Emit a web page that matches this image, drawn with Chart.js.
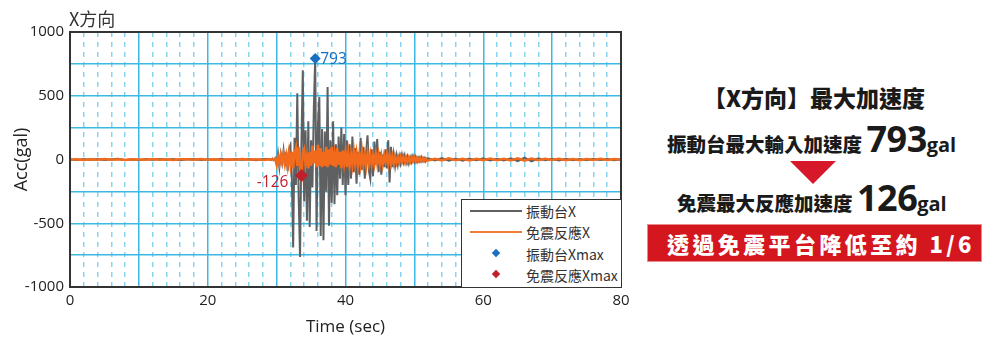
<!DOCTYPE html>
<html>
<head>
<meta charset="utf-8">
<script src="https://cdn.jsdelivr.net/npm/chart.js@4.4.1/dist/chart.umd.min.js"></script>
<style>
  body { margin: 0; background: #fff; width: 1000px; height: 343px; position: relative; overflow: hidden;
         font-family: "Noto Sans CJK TC", "Noto Sans", sans-serif; }
  #chartBox { position: absolute; left: 0; top: 0; width: 640px; height: 343px; }
  .dirLabel { position: absolute; left: 69px; top: 5px; font-size: 18px; line-height: 26px; color: #333; }

  /* legend box inside the plot */
  .legend { position: absolute; left: 461px; top: 199px; width: 161px; height: 89px; box-sizing: border-box;
            border: 1.5px solid #333; background: #fff; }
  .legend .row { position: absolute; left: 0; width: 100%; height: 20px; }
  .legend .line { position: absolute; left: 8px; top: 9px; width: 52px; height: 2px; }
  .legend .dia { position: absolute; left: 31px; top: 6px; width: 6px; height: 6px; transform: rotate(45deg); }
  .legend .txt { position: absolute; left: 64px; top: 0; font-size: 14px; line-height: 20px; color: #333; white-space: nowrap; }

  /* summary panel */
  .panel div { position: absolute; white-space: nowrap; color: #1a1a1a; font-weight: 900; }
  .head { left: 703px; top: 81px; font-size: 23px; line-height: 32px; }
  .big { font-family: "Open Sans", "Noto Sans", sans-serif; font-weight: 700; font-size: 36px; letter-spacing: -0.5px; }
  .unit { font-family: "Open Sans", "Noto Sans", sans-serif; font-weight: 700; font-size: 20px; }
  .line2 { left: 667px; top: 122px; font-size: 19.5px; line-height: 34px; }
  .line3 { left: 677px; top: 181px; font-size: 19.5px; line-height: 34px; }
  .arrow { left: 790px; top: 161px; width: 0; height: 0; border-left: 23.5px solid transparent;
           border-right: 23.5px solid transparent; border-top: 23px solid #d7182a; }
  .bar { left: 647px; top: 224px; width: 335px; height: 38px; box-sizing: border-box; background: #d4161f;
         border: 1px solid #ea8a8a; }
  .bar span { position: absolute; left: 19px; top: 0; font-size: 22px; line-height: 36px; color: #fff;
              letter-spacing: 3.4px; font-weight: 900; }
</style>
</head>
<body>
<div id="chartBox"><canvas id="accChart" width="640" height="343"></canvas></div>
<div class="dirLabel">X方向</div>

<div class="legend">
  <div class="row" style="top:1px"><div class="line" style="background:#5e6062"></div><div class="txt">振動台X</div></div>
  <div class="row" style="top:22px"><div class="line" style="background:#f07c3a"></div><div class="txt">免震反應X</div></div>
  <div class="row" style="top:44px"><div class="dia" style="background:#1a6fc0"></div><div class="txt">振動台Xmax</div></div>
  <div class="row" style="top:65px"><div class="dia" style="background:#c21f2c"></div><div class="txt">免震反應Xmax</div></div>
</div>

<div class="panel">
  <div class="head">【X方向】最大加速度</div>
  <div class="line2">振動台最大輸入加速度 <span class="big" id="inMax"></span><span class="unit">gal</span></div>
  <div class="arrow"></div>
  <div class="line3">免震最大反應加速度 <span class="big" id="outMax"></span><span class="unit">gal</span></div>
  <div class="bar"><span>透過免震平台降低至約 1/6</span></div>
</div>

<script>
// shaking table input (gray) and isolated response (orange), gal
// 0..28 s every 1 s, 29..51.8 s every 0.2 s, 52..80 s every 1 s
const tableAccX = [
  // 0 - 28 s
  2, -3, 4, -2, 3, -4, 2, 5, -3, 1, -4, 3, -2, 4, -1, 3, -5, 2, 4, -3, 2, -2, 5, -4, 3, -2, 4, -6, 3,
  // 29.0 - 30.8
  3, -4, 6, -5, 10, -30, 45, -60, 40, -25,
  // 31.0 - 32.8
  70, -50, 60, -90, 80, 110, -120, -690, 170, -200,
  // 33.0 - 34.8
  520, -300, -765, 120, 700, -330, 230, -480, 300, -530,
  // 35.0 - 36.8
  150, -220, 400, 793, -560, 280, 490, -600, 240, -634,
  // 37.0 - 38.8
  220, -250, 569, -520, 150, -340, 300, -350, 120, -280,
  // 39.0 - 40.8
  180, -150, 250, -200, 200, -280, 150, -200, 120, -150,
  // 41.0 - 42.8
  180, -100, 90, -190, 60, -120, 170, -80, 100, -150,
  // 43.0 - 44.8
  60, 190, -90, -150, 80, -130, 140, -40, 160, -100,
  // 45.0 - 46.8
  60, -120, 40, -60, 80, -70, 150, -180, 100, -60,
  // 47.0 - 48.8
  40, -50, 30, -40, 25, -30, 35, -20, 30, -25,
  // 49.0 - 50.8
  20, -30, 15, -20, 25, -15, 20, -18, 12, -15,
  // 51.0 - 51.8
  18, -10, 12, -14, 8,
  // 52 - 80 s
  10, -8, 12, -9, 7, -10, 8, -6, 9, -7, 6, -8, 10, -12, 15, -14, 9, -6, 5, -7, 6, -5, 4, -6, 5, -4, 6, -5, 3
];

const isolatedAccX = [
  // 0 - 28 s
  -2, 1, -3, 2, -1, 3, -2, 1, -3, 2, 0, -2, 3, -1, 2, -3, 1, 2, -2, 3, -1, 2, -3, 1, -2, 3, -1, 2, -3,
  // 29.0 - 30.8
  2, -3, 4, -2, 5, -40, 20, -30, 35, -20,
  // 31.0 - 32.8
  40, -35, 30, -50, 50, -40, 60, -70, 40, 90,
  // 33.0 - 34.8
  -50, 100, -70, -126, 50, 80, -40, 30, -70, 60,
  // 35.0 - 36.8
  -50, 110, -30, 70, -60, 115, -50, 90, -60, 60,
  // 37.0 - 38.8
  -50, 100, -60, 80, -40, 100, -50, 40, -60, 90,
  // 39.0 - 40.8
  -40, 60, -70, 70, -30, 60, -60, 50, -50, 40,
  // 41.0 - 42.8
  -40, 70, -30, 50, -50, 40, -40, 60, -40, 30,
  // 43.0 - 44.8
  -50, 50, -30, 40, -40, 30, -35, 45, -30, 40,
  // 45.0 - 46.8
  -35, 30, -40, 30, -20, 40, -30, 35, -35, 25,
  // 47.0 - 48.8
  -30, 20, -25, 18, -22, 20, -15, 22, -18, 15,
  // 49.0 - 50.8
  -20, 14, -16, 18, -12, 15, -14, 12, -10, 13,
  // 51.0 - 51.8
  -11, 9, -12, 8, -9,
  // 52 - 80 s
  -8, 6, -7, 9, -5, 6, -8, 5, -6, 7, -5, 6, -7, 9, -10, 8, -6, 5, -4, 6, -5, 4, -5, 3, -4, 5, -3, 4, -2
];

// peak markers: [shaking table max, isolated response max]
const peakTime = [35.6, 33.6];
const peakAcc = [793, -126];

const xTicks = [0, 20, 40, 60, 80];
const yTicks = [-1000, -500, 0, 500, 1000];

// sample times
const timeSec = [];
for (let t = 0; t <= 28; t++) timeSec.push(t);
for (let i = 0; i < 115; i++) timeSec.push(+(29 + i * 0.2).toFixed(1));
for (let t = 52; t <= 80; t++) timeSec.push(t);

const toPoints = (vals) => vals.map((v, i) => ({ x: timeSec[i], y: v }));

document.getElementById('inMax').textContent = Math.abs(peakAcc[0]);
document.getElementById('outMax').textContent = Math.abs(peakAcc[1]);

const solidGrid = '#3cb8e4';
const dashGrid = '#86d4f0';

// frame around the plot + value labels next to the peak markers
const framePlugin = {
  id: 'frame',
  afterDatasetsDraw(chart) {
    const { ctx, chartArea: a } = chart;
    ctx.save();
    ctx.font = '15.5px "Open Sans", "Noto Sans", sans-serif';
    ctx.textBaseline = 'middle';
    const blue = chart.getDatasetMeta(2).data[0];
    ctx.fillStyle = '#1a6fc0';
    ctx.textAlign = 'left';
    ctx.fillText(peakAcc[0], blue.x + 5, blue.y + 1);
    const red = chart.getDatasetMeta(3).data[0];
    ctx.fillStyle = '#c21f2c';
    ctx.textAlign = 'right';
    ctx.fillText(peakAcc[1], red.x - 13, red.y + 7);
    ctx.strokeStyle = '#333';
    ctx.lineWidth = 2;
    ctx.strokeRect(a.left, a.top, a.right - a.left, a.bottom - a.top);
    ctx.restore();
  }
};

const context = document.getElementById('accChart');
const accChart = new Chart(context, {
  type: 'line',
  data: {
    datasets: [{
      label: '振動台X',
      data: toPoints(tableAccX),
      borderColor: '#5e6062',
      borderWidth: 2,
      pointRadius: 0,
      tension: 0,
      order: 4
    }, {
      label: '免震反應X',
      data: toPoints(isolatedAccX),
      borderColor: '#f26a1b',
      borderWidth: 2.5,
      pointRadius: 0,
      tension: 0,
      order: 3
    }, {
      label: '振動台Xmax',
      type: 'scatter',
      data: [{ x: peakTime[0], y: peakAcc[0] }],
      pointStyle: 'rectRot',
      pointRadius: 5.5,
      backgroundColor: '#1a6fc0',
      borderWidth: 0,
      order: 2
    }, {
      label: '免震反應Xmax',
      type: 'scatter',
      data: [{ x: peakTime[1], y: peakAcc[1] }],
      pointStyle: 'rectRot',
      pointRadius: 6.5,
      backgroundColor: '#c21f2c',
      borderWidth: 0,
      order: 1
    }]
  },
  options: {
    responsive: false,
    animation: false,
    layout: { padding: { top: 32, right: 19, left: 0, bottom: 0 } },
    plugins: { legend: { display: false }, tooltip: { enabled: false } },
    scales: {
      x: {
        type: 'linear',
        min: 0,
        max: 80,
        ticks: {
          stepSize: 2,
          autoSkip: false,
          maxRotation: 0,
          padding: 5,
          color: '#222',
          font: { family: 'Open Sans', size: 15 },
          callback: (v) => xTicks.includes(v) ? v : ''
        },
        grid: {
          drawTicks: false,
          color: (c) => (c.tick && c.tick.value % 10 === 0) ? solidGrid : dashGrid,
          lineWidth: 1.5
        },
        border: {
          color: '#333',
          width: 2,
          dash: (c) => (c.tick && c.tick.value % 10 !== 0) ? [5, 5] : []
        },
        title: {
          display: true,
          text: 'Time (sec)',
          color: '#222',
          font: { family: 'Open Sans', size: 17 },
          padding: { top: 0, bottom: 6 }
        },
        afterFit: (s) => { s.height = 56; }
      },
      y: {
        min: -1000,
        max: 1000,
        ticks: {
          stepSize: 250,
          padding: 6,
          color: '#222',
          font: { family: 'Open Sans', size: 15 },
          callback: (v) => yTicks.includes(v) ? v : ''
        },
        grid: {
          drawTicks: false,
          color: solidGrid,
          lineWidth: 1.5
        },
        border: { color: '#333', width: 2 },
        title: {
          display: true,
          text: 'Acc(gal)',
          color: '#222',
          font: { family: 'Open Sans', size: 18 },
          padding: { top: 11, bottom: 0 }
        },
        afterFit: (s) => { s.width = 70; }
      }
    }
  },
  plugins: [framePlugin]
});
</script>
</body>
</html>
